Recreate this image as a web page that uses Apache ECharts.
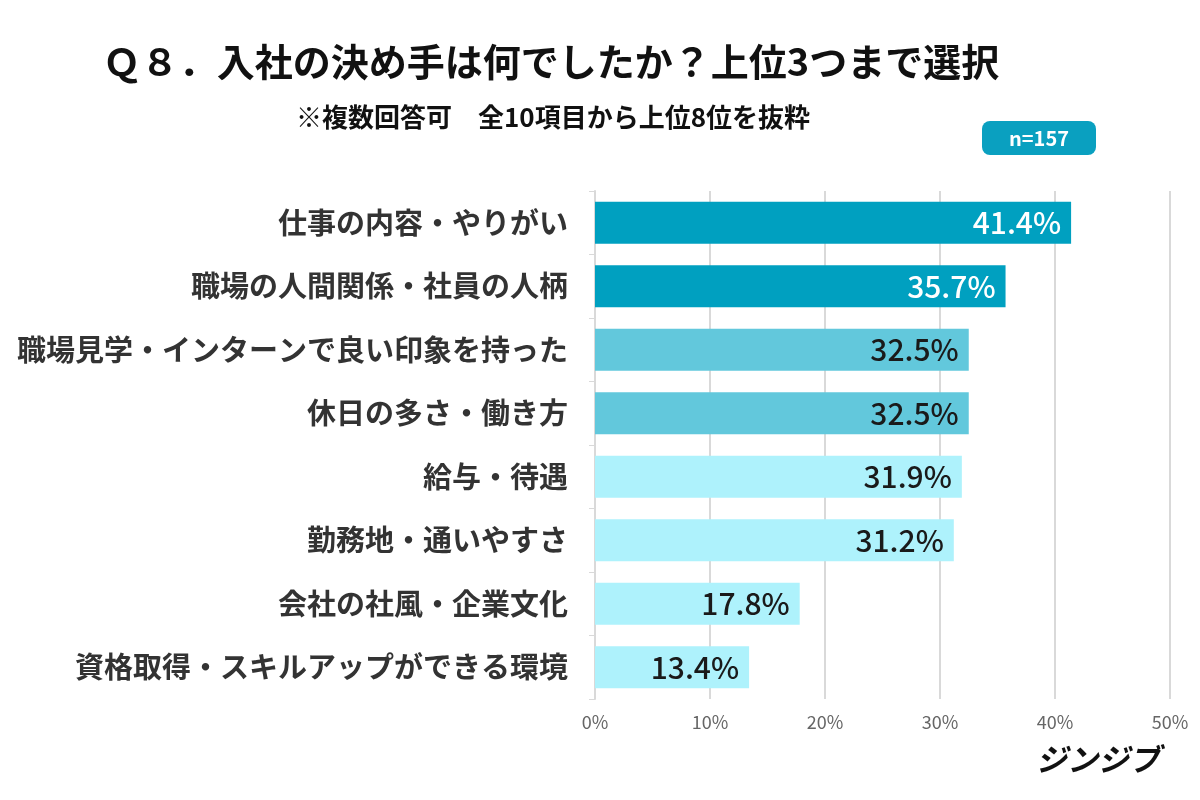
<!DOCTYPE html>
<html>
<head>
<meta charset="utf-8">
<script src="https://cdn.jsdelivr.net/npm/echarts@6/dist/echarts.min.js"></script>
<style>
  html, body { margin: 0; padding: 0; background: #fff; }
  #chart { width: 1200px; height: 800px; }
</style>
</head>
<body>
<div id="chart"></div>
<script>
// 選択肢（上から順に）
const categories = [
    '仕事の内容・やりがい',
    '職場の人間関係・社員の人柄',
    '職場見学・インターンで良い印象を持った',
    '休日の多さ・働き方',
    '給与・待遇',
    '勤務地・通いやすさ',
    '会社の社風・企業文化',
    '資格取得・スキルアップができる環境'
];
// 回答率（%）
const values = [41.4, 35.7, 32.5, 32.5, 31.9, 31.2, 17.8, 13.4];
// 目盛り
const xTicks = [0, 10, 20, 30, 40, 50];

const font = '"Noto Sans CJK JP", "Noto Sans", sans-serif';

// 色分け：上位2件 / 3-4件 / それ以外
function barColor(i) {
    if (i < 2) return '#00a0c0';
    if (i < 4) return '#62c8dc';
    return '#aef2fc';
}

let myChart = echarts.init(document.getElementById('chart'));
let option = {
    backgroundColor: '#fff',
    textStyle: { fontFamily: font },
    title: [
        {
            text: 'Ｑ８．入社の決め手は何でしたか？上位3つまで選択',
            left: 546,
            textAlign: 'center',
            top: 38,
            textStyle: { fontSize: 38, fontWeight: 'bold', color: '#111', fontFamily: font }
        },
        {
            text: '※複数回答可　全10項目から上位8位を抜粋',
            left: 548,
            textAlign: 'center',
            top: 99,
            textStyle: { fontSize: 26, fontWeight: 'bold', color: '#111', fontFamily: font }
        }
    ],
    grid: {
        left: 595,
        right: 30,
        top: 191,
        bottom: 101,
        containLabel: false
    },
    xAxis: {
        type: 'value',
        min: 0,
        max: 50,
        interval: 10,
        axisLine: { show: false },
        axisTick: { show: false },
        splitLine: { lineStyle: { color: '#d9d9d9', width: 2 } },
        axisLabel: {
            color: '#666',
            fontSize: 18,
            margin: 14,
            formatter: function (v) { return xTicks.indexOf(v) >= 0 ? v + '%' : ''; }
        }
    },
    yAxis: {
        type: 'category',
        inverse: true,
        data: categories,
        axisLine: { show: true, lineStyle: { color: '#d9d9d9', width: 2 } },
        axisTick: { show: true, length: 6, lineStyle: { color: '#d9d9d9' } },
        axisLabel: {
            color: '#333',
            fontSize: 29,
            fontWeight: 600,
            margin: 27
        }
    },
    series: [
        {
            type: 'bar',
            barCategoryGap: '34%',
            data: values.map((v, i) => ({
                value: v,
                itemStyle: { color: barColor(i) },
                label: { color: i < 2 ? '#fff' : '#1a1a1a' }
            })),
            label: {
                show: true,
                position: 'insideRight',
                distance: 10,
                fontSize: 30,
                fontWeight: 500,
                formatter: function (p) { return p.value.toFixed(1) + '%'; }
            }
        }
    ],
    graphic: [
        {
            type: 'group',
            left: 982,
            top: 121,
            children: [
                {
                    type: 'rect',
                    shape: { x: 0, y: 0, width: 114, height: 34, r: 8 },
                    style: { fill: '#0aa0c0' }
                },
                {
                    type: 'text',
                    x: 57,
                    y: 17,
                    style: {
                        text: 'n=157',
                        fill: '#fff',
                        font: 'bold 20px ' + font,
                        textAlign: 'center',
                        textVerticalAlign: 'middle'
                    }
                }
            ]
        },
        {
            type: 'text',
            left: 1036,
            top: 744,
            style: {
                text: 'ジンジブ',
                fill: '#111',
                font: 'italic bold 31px ' + font
            }
        }
    ]
};
myChart.setOption(option);
</script>
</body>
</html>
